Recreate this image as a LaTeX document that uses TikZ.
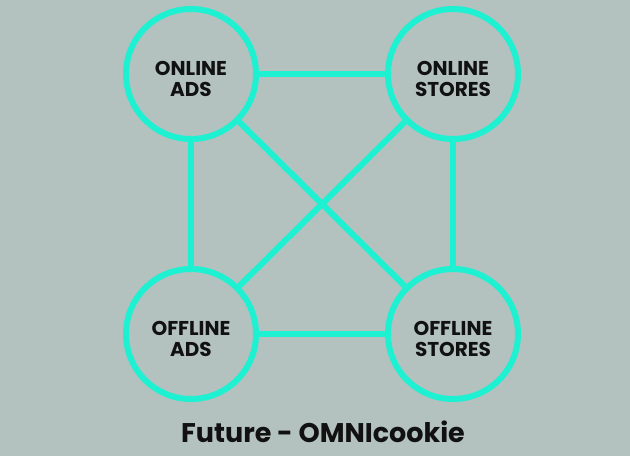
\documentclass[tikz,border=0pt]{standalone}
\usepackage{fontspec}
\setmainfont{Poppins}
\usepackage{tikz}
\definecolor{bg}{RGB}{179, 194, 191}
\definecolor{aqua}{RGB}{30, 240, 210}
\definecolor{ink}{RGB}{17, 17, 17}
\usetikzlibrary{positioning}

\begin{document}
\begin{tikzpicture}[x=1pt, y=1pt,
  channel/.style={circle, minimum size=130pt, inner sep=0pt, line width=6pt, draw=aqua,
    label={[yshift=-5pt, align=center, text=ink, font=\bfseries\fontsize{20}{21}\selectfont]center:#1}},
  link/.style={line width=6pt, color=aqua}]
\fill [bg] (0, 0) rectangle (630, -456);
\useasboundingbox (0, 0) rectangle (630, -456);
\node (onads) [channel={ONLINE\\ADS}] at (191.0pt, -74.0pt) {};
\node (onstores) [channel={ONLINE\\STORES}] at (453.0pt, -74.0pt) {};
\node (offads) [channel={OFFLINE\\ADS}] at (191.0pt, -334.0pt) {};
\node (offstores) [channel={OFFLINE\\STORES}] at (453.0pt, -334.0pt) {};
\draw [link] (onads) to (onstores);
\draw [link] (onads) to (offads);
\draw [link] (onstores) to (offstores);
\draw [link] (offads) to (offstores);
\draw [link] (onads) to (offstores);
\draw [link] (onstores) to (offads);
\node (title) [text=ink, font=\bfseries\fontsize{27}{30}\selectfont] at (323.0pt, -432.0pt) {Future - OMNIcookie};
\end{tikzpicture}
\end{document}
